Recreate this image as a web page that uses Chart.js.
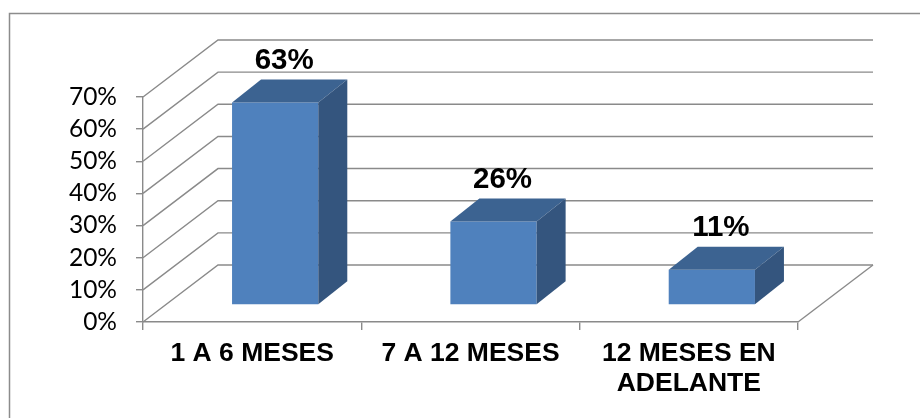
<!DOCTYPE html>
<html>
<head>
<meta charset="utf-8">
<script src="https://cdn.jsdelivr.net/npm/chart.js@4.4.0/dist/chart.umd.min.js"></script>
<style>
html,body{margin:0;padding:0;background:#fff;}
#wrap{position:relative;width:920px;height:418px;}
</style>
</head>
<body>
<div id="wrap"><canvas id="c" width="920" height="418"></canvas></div>
<script>
const categories = [['1 A 6 MESES'], ['7 A 12 MESES'], ['12 MESES EN', 'ADELANTE']];
const values = [0.63, 0.26, 0.11];
const valueLabels = ['63%', '26%', '11%'];
const yTicks = [0, 0.1, 0.2, 0.3, 0.4, 0.5, 0.6, 0.7];

// 3D geometry (pixels)
const WALL_DX = 75, WALL_DY = -57;     // back wall offset
const BAR_DX = 23, BAR_DY = -17;       // bar front face offset from front plane
const DEPTH_DX = 29, DEPTH_DY = -23;   // bar depth
const GRID = '#8a8a8a';
const FRONT = '#4F81BD', TOP = '#3C6391', SIDE = '#34557E';

const threeD = {
  id: 'threeD',
  beforeDraw(chart) {
    const ctx = chart.ctx;
    ctx.save();
    ctx.strokeStyle = '#8c8c8c';
    ctx.lineWidth = 1.5;
    ctx.beginPath();
    ctx.moveTo(9.5, 430); ctx.lineTo(9.5, 13.5); ctx.lineTo(930, 13.5);
    ctx.stroke();
    ctx.restore();
  },
  beforeDatasetsDraw(chart) {
    const ctx = chart.ctx;
    const y = chart.scales.y;
    const L = chart.chartArea.left, R = chart.chartArea.right, B = chart.chartArea.bottom;
    ctx.save();
    ctx.strokeStyle = GRID;
    ctx.lineWidth = 1.4;
    yTicks.forEach(v => {
      const py = y.getPixelForValue(v);
      ctx.beginPath();
      ctx.moveTo(L, py);
      ctx.lineTo(L + WALL_DX, py + WALL_DY);
      ctx.lineTo(R + WALL_DX, py + WALL_DY);
      ctx.stroke();
    });
    ctx.beginPath();
    ctx.moveTo(R, B);
    ctx.lineTo(R + WALL_DX, B + WALL_DY);
    ctx.stroke();
    ctx.restore();
    ctx.save();
    ctx.translate(BAR_DX, BAR_DY);
  },
  afterDatasetsDraw(chart) {
    const ctx = chart.ctx;
    ctx.restore();
    const meta = chart.getDatasetMeta(0);
    ctx.save();
    meta.data.forEach((bar, i) => {
      const p = bar.getProps(['x', 'y', 'base', 'width'], true);
      const xl = p.x - p.width / 2 + BAR_DX, xr = p.x + p.width / 2 + BAR_DX;
      const yt = p.y + BAR_DY, yb = p.base + BAR_DY;
      ctx.fillStyle = TOP;
      ctx.beginPath();
      ctx.moveTo(xl, yt); ctx.lineTo(xl + DEPTH_DX, yt + DEPTH_DY);
      ctx.lineTo(xr + DEPTH_DX, yt + DEPTH_DY); ctx.lineTo(xr, yt);
      ctx.closePath(); ctx.fill();
      ctx.fillStyle = SIDE;
      ctx.beginPath();
      ctx.moveTo(xr, yt); ctx.lineTo(xr + DEPTH_DX, yt + DEPTH_DY);
      ctx.lineTo(xr + DEPTH_DX, yb + DEPTH_DY); ctx.lineTo(xr, yb);
      ctx.closePath(); ctx.fill();
      ctx.fillStyle = '#000';
      ctx.font = 'bold 29.5px "Liberation Sans", Arial, sans-serif';
      ctx.textAlign = 'center';
      ctx.textBaseline = 'middle';
      ctx.fillText(valueLabels[i], (xl + xr) / 2 + 9, yt + DEPTH_DY - 19);
    });
    ctx.restore();
  }
};

new Chart(document.getElementById('c'), {
  type: 'bar',
  data: {
    labels: categories,
    datasets: [{
      data: values,
      backgroundColor: FRONT,
      borderWidth: 0,
      categoryPercentage: 1,
      barPercentage: 0.395
    }]
  },
  options: {
    responsive: false,
    animation: false,
    events: [],
    layout: { padding: { left: 0, right: 122, top: 97, bottom: 0 } },
    plugins: { legend: { display: false }, tooltip: { enabled: false }, title: { display: false } },
    scales: {
      x: {
        grid: { display: true, drawOnChartArea: false, drawTicks: true, tickLength: 8, color: GRID, lineWidth: 1.4, offset: true },
        border: { display: true, color: GRID, width: 1.4 },
        ticks: {
          color: '#000',
          font: { family: '"Liberation Sans", Arial, sans-serif', size: 26.5, weight: 'bold', lineHeight: 1.13 },
          padding: 9,
          maxRotation: 0, autoSkip: false
        },
        afterFit(s) { s.height = 96; }
      },
      y: {
        min: 0, max: 0.7,
        afterBuildTicks(s) { s.ticks = yTicks.map(v => ({ value: v })); },
        grid: { display: true, drawOnChartArea: false, drawTicks: true, tickLength: 7, color: GRID, lineWidth: 1.4 },
        border: { display: true, color: GRID, width: 1.4 },
        ticks: {
          color: '#000',
          font: { family: 'Lato, "Open Sans", sans-serif', size: 24.5, lineHeight: 1 },
          padding: 19,
          autoSkip: false,
          callback: v => Math.round(v * 100) + '%'
        },
        afterFit(s) { s.width = 143; }
      }
    }
  },
  plugins: [threeD]
});
</script>
</body>
</html>
